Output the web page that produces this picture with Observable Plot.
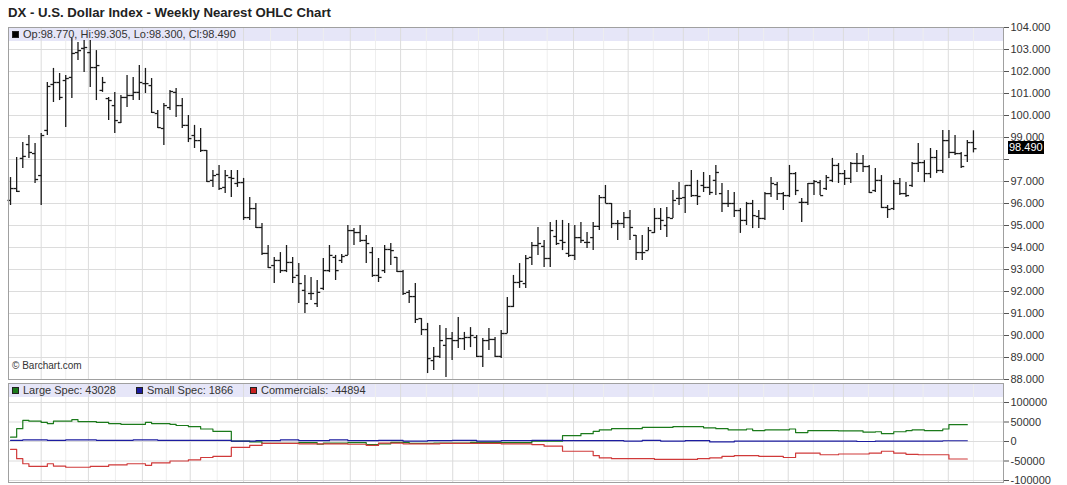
<!DOCTYPE html>
<html><head><meta charset="utf-8">
<script src="https://cdn.jsdelivr.net/npm/d3@7"></script>
<script src="https://cdn.jsdelivr.net/npm/@observablehq/plot@0.6"></script>
<style>
body{margin:0;background:#fff;font-family:"Liberation Sans",Arial,sans-serif;}
#wrap{position:relative;width:1067px;height:485px;overflow:hidden;}
.title{position:absolute;left:8px;top:5px;font-weight:bold;font-size:13.2px;color:#222;}
.band{position:absolute;background:#e6e6f8;z-index:0;}
.chart{position:absolute;left:0;z-index:1;}
.leg{position:absolute;font-size:11px;color:#333;white-space:nowrap;z-index:2;}
.sq{display:inline-block;width:7px;height:7px;margin-right:4px;border:1px solid #222;box-sizing:border-box;}
.last{position:absolute;z-index:3;background:#000;color:#fff;font-size:11px;padding:0 1px;line-height:13px;}
.copy{position:absolute;left:12px;top:360px;font-size:10px;color:#333;z-index:2;}
</style></head>
<body><div id="wrap">
<div class="title">DX - U.S. Dollar Index - Weekly Nearest OHLC Chart</div>
<div class="band" style="left:8px;top:27px;width:995px;height:14px"></div>
<div class="band" style="left:8px;top:383px;width:995px;height:14px"></div>
<div class="leg" style="left:12px;top:27px;line-height:14px"><span class="sq" style="background:#000"></span>Op:98.770, Hi:99.305, Lo:98.300, Cl:98.490</div>
<div class="leg" style="left:12px;top:383px;line-height:14px"><span class="sq" style="background:#1b7a1b"></span>Large Spec: 43028</div>
<div class="leg" style="left:136px;top:383px;line-height:14px"><span class="sq" style="background:#1c1ca0"></span>Small Spec: 1866</div>
<div class="leg" style="left:250px;top:383px;line-height:14px"><span class="sq" style="background:#c82020"></span>Commercials: -44894</div>
<div class="copy">© Barchart.com</div>
<div id="price" class="chart" style="top:23px"></div>
<div id="cot" class="chart" style="top:383px"></div>
</div>
<script>
// Weekly OHLC (oldest -> newest)
const opens = [96.14,96.68,98.05,98.68,98.27,97.27,99.32,101.41,101.50,101.59,101.73,102.86,103.05,102.86,102.18,101.14,100.77,100.45,99.68,100.82,100.91,101.05,101.45,101.36,100.09,99.41,100.36,101.05,100.45,99.55,99.09,98.86,98.41,97.05,97.32,96.73,97.18,96.91,96.95,95.36,95.77,94.91,93.73,93.18,93.41,92.95,93.32,92.73,92.05,91.91,91.45,92.14,92.95,93.55,93.41,93.64,94.77,94.68,94.32,93.77,92.73,92.95,93.91,93.55,92.91,91.96,91.77,90.77,90.27,88.86,89.05,89.55,89.86,89.77,89.86,89.91,89.91,89.05,89.77,89.82,89.05,90.09,91.32,92.41,92.36,93.55,94.09,94.05,93.50,94.50,94.32,93.73,93.64,94.45,94.23,94.45,94.96,96.27,96.00,95.09,95.09,95.36,94.55,93.77,93.86,94.68,95.32,95.00,95.32,96.23,96.27,96.82,96.36,96.82,96.73,97.05,96.45,96.00,96.00,95.68,95.23,96.00,95.41,95.32,96.45,96.86,96.45,96.36,97.36,96.05,96.05,96.91,96.95,96.68,97.05,97.73,97.36,97.14,97.82,97.82,97.68,96.59,97.05,95.82,95.77,96.91,96.45,96.82,97.82,97.86,97.36,98.09,97.50,98.86,98.32,98.27,98.18,98.77];
const highs = [97.18,98.09,98.77,99.09,98.73,99.18,101.50,102.14,101.91,101.82,103.50,103.32,103.41,103.41,102.95,101.73,100.82,101.05,100.91,101.82,101.73,102.27,102.14,101.68,100.23,100.55,101.14,101.23,100.77,100.00,99.55,99.41,98.41,97.50,97.73,97.50,97.50,97.50,97.14,96.27,96.00,95.09,94.09,93.55,93.77,94.09,93.55,93.27,92.73,92.64,92.50,93.50,94.09,93.64,93.68,95.00,94.86,95.00,94.55,94.00,93.50,94.09,94.18,93.55,92.95,92.05,92.36,90.77,90.55,89.45,90.45,90.32,90.14,90.82,90.14,90.36,90.00,89.86,90.32,89.91,90.23,91.73,92.73,93.27,93.64,94.23,94.91,94.32,95.14,95.23,95.23,95.09,95.00,95.14,94.68,95.14,96.36,96.82,96.00,95.23,95.59,95.68,94.55,94.55,94.91,95.77,95.77,95.82,96.59,96.95,96.82,97.50,97.05,97.41,97.27,97.73,96.91,96.59,96.50,95.77,96.05,96.14,95.68,96.50,97.18,96.95,96.50,97.73,97.41,96.23,96.91,97.05,97.05,97.27,98.05,97.82,97.50,97.86,98.27,98.18,97.73,97.59,97.27,95.91,97.05,97.14,96.95,97.86,98.73,97.95,98.50,98.41,99.32,99.32,99.09,98.32,98.86,99.305];
const lows = [95.91,96.50,97.59,98.05,96.91,95.91,99.09,100.59,100.68,99.45,100.77,102.50,101.95,101.27,100.68,101.05,99.77,99.18,99.64,100.36,100.68,100.68,101.00,100.09,99.41,98.64,100.23,99.91,99.41,98.77,98.50,98.32,96.95,96.73,96.59,96.45,96.27,96.73,95.23,95.23,94.86,93.64,93.05,92.36,92.82,92.86,92.36,91.45,91.00,91.59,91.27,92.05,92.86,92.50,93.27,93.64,94.09,94.23,93.27,92.64,92.41,92.82,93.18,92.86,91.82,91.45,90.55,90.00,88.27,88.41,88.95,88.09,88.86,89.41,89.32,89.45,89.00,88.55,89.32,89.00,88.95,90.09,91.27,92.14,92.14,93.18,93.64,93.09,93.09,94.09,93.86,93.55,93.41,94.18,93.96,93.86,94.77,96.00,94.86,94.32,94.86,94.32,93.41,93.41,93.86,94.64,94.77,94.45,95.32,95.91,95.55,96.27,95.91,96.50,96.36,96.36,95.59,95.82,95.36,94.64,95.00,94.86,94.86,95.23,96.27,96.14,95.68,96.27,96.36,95.14,95.91,96.36,96.36,96.59,96.95,96.91,96.82,96.91,97.41,97.41,96.45,96.50,95.77,95.32,95.68,96.36,96.27,96.73,97.41,96.95,97.14,97.36,97.36,98.05,98.18,97.59,97.86,98.30];
const closes = [96.68,96.55,98.14,98.32,97.09,99.09,101.32,101.50,100.82,101.68,102.82,102.95,103.09,102.18,102.27,101.50,100.68,99.77,100.82,100.91,101.05,101.50,101.45,100.14,99.45,100.45,101.09,100.45,99.55,98.95,98.86,98.41,97.00,97.27,96.68,97.27,97.14,96.95,95.36,95.77,94.91,93.73,93.09,93.41,92.95,93.32,92.64,92.36,91.45,91.91,91.96,92.95,93.64,92.95,93.59,94.77,94.68,94.32,94.18,92.73,92.64,93.91,93.86,92.91,91.91,91.77,90.73,90.27,88.95,89.05,89.77,89.86,89.77,89.86,89.91,90.00,89.05,89.77,89.82,89.05,90.09,91.32,92.41,92.46,93.50,94.09,94.18,93.50,94.77,94.18,94.23,93.64,94.45,94.32,94.23,94.96,96.27,96.00,95.09,95.09,95.36,94.91,93.77,93.77,94.77,95.32,95.23,95.36,96.14,96.23,96.82,96.36,96.32,96.73,96.50,97.41,96.00,96.00,95.68,95.23,96.00,95.45,95.32,96.45,96.91,96.45,96.36,97.36,96.59,96.05,96.91,97.00,96.36,97.18,97.73,97.36,97.14,97.82,97.82,97.68,96.50,97.05,95.82,95.73,96.91,96.45,96.36,97.82,97.86,97.36,98.09,97.50,98.86,98.32,98.27,97.68,98.77,98.49];
const lastClose = 98.49;

// Commitments of Traders, net positions: [week index, value] at each change
const largeSpec = [[0,11000],[1,33000],[2,54000],[3,52000],[5,49000],[6,46000],[7,52000],[10,56000],[11,51000],[14,49000],[16,46000],[18,44000],[22,49000],[23,46000],[26,44000],[27,41000],[29,38000],[31,32000],[33,26000],[36,1000],[39,-1000],[41,-5000],[47,-3000],[50,-7000],[51,-4000],[55,-3000],[58,-8000],[60,-6000],[62,-2000],[65,-5000],[69,-4000],[75,-2000],[80,-3000],[85,1000],[90,15000],[93,20000],[95,26000],[96,30000],[98,33000],[103,36000],[108,38000],[113,35000],[115,33000],[117,30000],[120,32000],[121,28000],[123,30000],[127,32000],[128,23000],[130,28000],[135,27000],[139,24000],[141,25000],[142,20000],[144,25000],[146,28000],[147,30000],[149,28000],[152,32000],[153,43028],[156,43028]];
const smallSpec = [[0,3000],[2,4000],[6,3000],[9,4000],[14,3000],[20,4000],[24,3000],[36,1000],[40,2000],[44,4000],[47,2000],[52,4000],[55,2000],[60,3000],[64,1000],[68,2000],[72,3000],[76,1000],[80,2000],[85,3000],[90,2000],[100,1000],[103,3000],[106,1000],[110,2000],[114,-1000],[118,1000],[138,0],[141,1000],[152,1866],[156,1866]];
const commercials = [[0,-20000],[1,-44000],[2,-57000],[3,-64000],[6,-57000],[7,-63000],[9,-66000],[13,-64000],[16,-60000],[19,-57000],[22,-61000],[23,-55000],[26,-50000],[29,-47000],[31,-41000],[33,-38000],[36,-15000],[39,-10000],[41,-5000],[47,-6000],[55,-7000],[58,-10000],[60,-4000],[64,-6000],[70,-5000],[80,-6000],[85,-8000],[87,-12000],[90,-25000],[95,-36000],[96,-42000],[98,-44000],[105,-46000],[112,-44000],[114,-42000],[116,-38000],[118,-36000],[122,-38000],[126,-41000],[128,-30000],[132,-34000],[135,-32000],[140,-30000],[142,-25000],[144,-30000],[146,-33000],[148,-34000],[153,-44894],[156,-44894]];

const priceTicks = [88,89,90,91,92,93,94,95,96,97,98,99,100,101,102,103,104];
const cotTicks = [-100000,-50000,0,50000,100000];
// time grid (week index): major and minor vertical lines
const majorGrid = [5,12.7,21.5,29.3,38,46.8,55.4,63.6,72.1,80.4,91.8,100.7,109.7,118.7,126.8,135.8,144,152.9];
const minorGrid = [9,17.1,25.4,33.7,42.4,51,59.5,67.8,76.3,87.5,96.7,104.8,113.8,122.8,130.9,139.9,148.8,157];

const bars = opens.map((o, i) => ({i, o, h: highs[i], l: lows[i], c: closes[i]}));
const xDomain = [-0.33, 161.9];
const gridC = "#dcdcdc";
const minorC = "#eeeeee";
const axisStyle = {background: "transparent", fontFamily: "'Liberation Sans', Arial, sans-serif", fontSize: "11px", color: "#333", overflow: "visible"};

const price = Plot.plot({
  width: 1067, height: 360, marginTop: 4, marginBottom: 4, marginLeft: 8, marginRight: 64,
  style: axisStyle,
  x: {domain: xDomain, axis: null},
  y: {domain: [88, 104]},
  marks: [
    Plot.ruleX(minorGrid, {stroke: minorC}),
    Plot.ruleY(priceTicks, {stroke: gridC}),
    Plot.ruleX(majorGrid, {stroke: gridC}),
    Plot.ruleX(bars, {x: "i", y1: "l", y2: "h", stroke: "#1a1a1a", strokeWidth: 1.3}),
    Plot.link(bars, {x1: d => d.i - 0.5, x2: "i", y1: "o", y2: "o", stroke: "#1a1a1a", strokeWidth: 1.3}),
    Plot.link(bars, {x1: "i", x2: d => d.i + 0.5, y1: "c", y2: "c", stroke: "#1a1a1a", strokeWidth: 1.3}),
    Plot.axisY(priceTicks, {anchor: "right", tickSize: 5, tickPadding: 2, stroke: "#555",
      tickFormat: d => d === 98 ? "" : d.toFixed(3)}),
    Plot.frame({stroke: "#a0a0a0"})
  ]
});
document.getElementById("price").append(price);

const cot = Plot.plot({
  width: 1067, height: 102, marginTop: 0, marginBottom: 3, marginLeft: 8, marginRight: 64,
  style: axisStyle,
  x: {domain: xDomain, axis: null},
  y: {domain: [-105128, 148718]},
  marks: [
    Plot.ruleX(minorGrid, {stroke: minorC}),
    Plot.ruleY(cotTicks, {stroke: gridC}),
    Plot.ruleX(majorGrid, {stroke: gridC}),
    Plot.line(largeSpec, {x: d => d[0], y: d => d[1], curve: "step-after", stroke: "#1b7a1b", strokeWidth: 1.2}),
    Plot.line(smallSpec, {x: d => d[0], y: d => d[1], curve: "step-after", stroke: "#1c1ca0", strokeWidth: 1.2}),
    Plot.line(commercials, {x: d => d[0], y: d => d[1], curve: "step-after", stroke: "#d03a3a", strokeWidth: 1.2}),
    Plot.axisY(cotTicks, {anchor: "right", tickSize: 5, tickPadding: 2, stroke: "#555", tickFormat: d => String(d)}),
    Plot.frame({stroke: "#a0a0a0"})
  ]
});
document.getElementById("cot").append(cot);

// current price marker on the right axis
const yy = price.scale("y").apply(lastClose) + 23;
const lab = document.createElement("div");
lab.className = "last";
lab.textContent = lastClose.toFixed(3);
lab.style.left = "1008px";
lab.style.top = (yy - 7) + "px";
document.getElementById("wrap").append(lab);
</script>
</body></html>
